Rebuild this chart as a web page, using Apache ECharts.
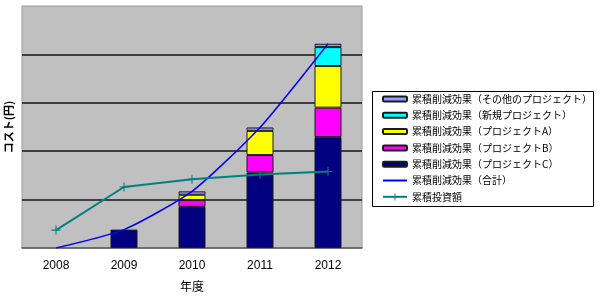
<!DOCTYPE html>
<html><head><meta charset="utf-8">
<script src="https://cdn.jsdelivr.net/npm/echarts@6/dist/echarts.min.js"></script>
<style>html,body{margin:0;padding:0;background:#fff}#c{width:600px;height:300px}</style>
</head><body><div id="c"></div>
<script>
const categories = ['2008', '2009', '2010', '2011', '2012'];
const projC = [null, 0.38, 0.85, 1.56, 2.29];
const projB = [null, null, 0.14, 0.36, 0.61];
const projA = [null, null, 0.11, 0.50, 0.86];
const newProj = [null, null, null, null, 0.39];
const otherProj = [null, null, 0.07, 0.07, 0.07];
const total = [0, 0.38, 1.17, 2.49, 4.22];
const investment = [0.37, 1.26, 1.42, 1.52, 1.58];

const names = {
  other: '累積削減効果（その他のプロジェクト）',
  newp: '累積削減効果（新規プロジェクト）',
  a: '累積削減効果（プロジェクトA）',
  b: '累積削減効果（プロジェクトB）',
  c: '累積削減効果（プロジェクトC）',
  total: '累積削減効果（合計）',
  inv: '累積投資額'
};
const FONT = '"Liberation Sans", "Noto Sans CJK JP", sans-serif';
const JP = '"Noto Sans CJK JP", sans-serif';
const cross = 'path://M4.4,0H5.6V4.4H10V5.6H5.6V10H4.4V5.6H0V4.4H4.4Z';

function bar(name, data, color) {
  return {
    name, type: 'bar', stack: 'saving', data, barWidth: 27,
    itemStyle: { color, borderColor: '#1a1a1a', borderWidth: 1 },
    emphasis: { disabled: true }
  };
}

const chart = echarts.init(document.getElementById('c'), null, { renderer: 'canvas' });
chart.setOption({
  animation: false,
  backgroundColor: '#fff',
  textStyle: { fontFamily: FONT },
  grid: {
    left: 22, right: 238, top: 6, bottom: 52,
    outerBoundsMode: 'none', containLabel: false,
    show: true, backgroundColor: '#c0c0c0', borderColor: '#9a9a9a', borderWidth: 1
  },
  graphic: [{
    type: 'rect', left: 372, top: 91, z: -1,
    shape: { width: 221, height: 115 },
    style: { fill: '#fff', stroke: '#000', lineWidth: 1 }
  }],
  legend: [{
    orient: 'vertical', left: 382, top: 93, padding: 0,
    itemWidth: 24, itemHeight: 5, itemGap: 4.3,
    textStyle: { fontSize: 10, lineHeight: 12, color: '#000', fontFamily: JP },
    data: [names.other, names.newp, names.a, names.b, names.c]
  }, {
    orient: 'vertical', left: 382, top: 174.5, padding: 0,
    itemWidth: 24, itemHeight: 9, itemGap: 4.3,
    textStyle: { fontSize: 10, lineHeight: 12, color: '#000', fontFamily: JP },
    data: [{ name: names.total, itemStyle: { opacity: 0 } }, names.inv]
  }],
  xAxis: {
    type: 'category', data: categories, boundaryGap: true,
    name: '年度', nameLocation: 'middle', nameGap: 32,
    nameTextStyle: { fontSize: 12, color: '#000', fontFamily: JP },
    axisLine: { lineStyle: { color: '#555', width: 1.5 } },
    axisTick: { inside: true, length: 4, lineStyle: { color: '#555' } },
    axisLabel: { fontSize: 12, color: '#000', margin: 12 }
  },
  yAxis: {
    type: 'value', min: 0, max: 5, interval: 1,
    name: 'コスト(円)', nameLocation: 'middle', nameRotate: 90, nameGap: 8,
    nameTextStyle: { fontSize: 11, color: '#000', fontFamily: JP, fontWeight: 'bold' },
    axisLabel: { show: false },
    axisTick: { show: false },
    axisLine: { show: false },
    splitLine: { show: true, showMinLine: false, showMaxLine: false, lineStyle: { color: '#404040', width: 2 } }
  },
  series: [
    bar(names.c, projC, '#000080'),
    bar(names.b, projB, '#ff00ff'),
    bar(names.a, projA, '#ffff00'),
    bar(names.newp, newProj, '#00ffff'),
    bar(names.other, otherProj, '#9999ff'),
    {
      name: names.total, type: 'line', data: total, smooth: 0.2,
      symbol: 'none', lineStyle: { color: '#0000ff', width: 1.5 },
      itemStyle: { color: '#0000ff' }, z: 3
    },
    {
      name: names.inv, type: 'line', data: investment,
      symbol: cross, symbolSize: 9, showSymbol: true,
      lineStyle: { color: '#008080', width: 2 },
      itemStyle: { color: '#008080' }, z: 4
    }
  ]
});
</script></body></html>
